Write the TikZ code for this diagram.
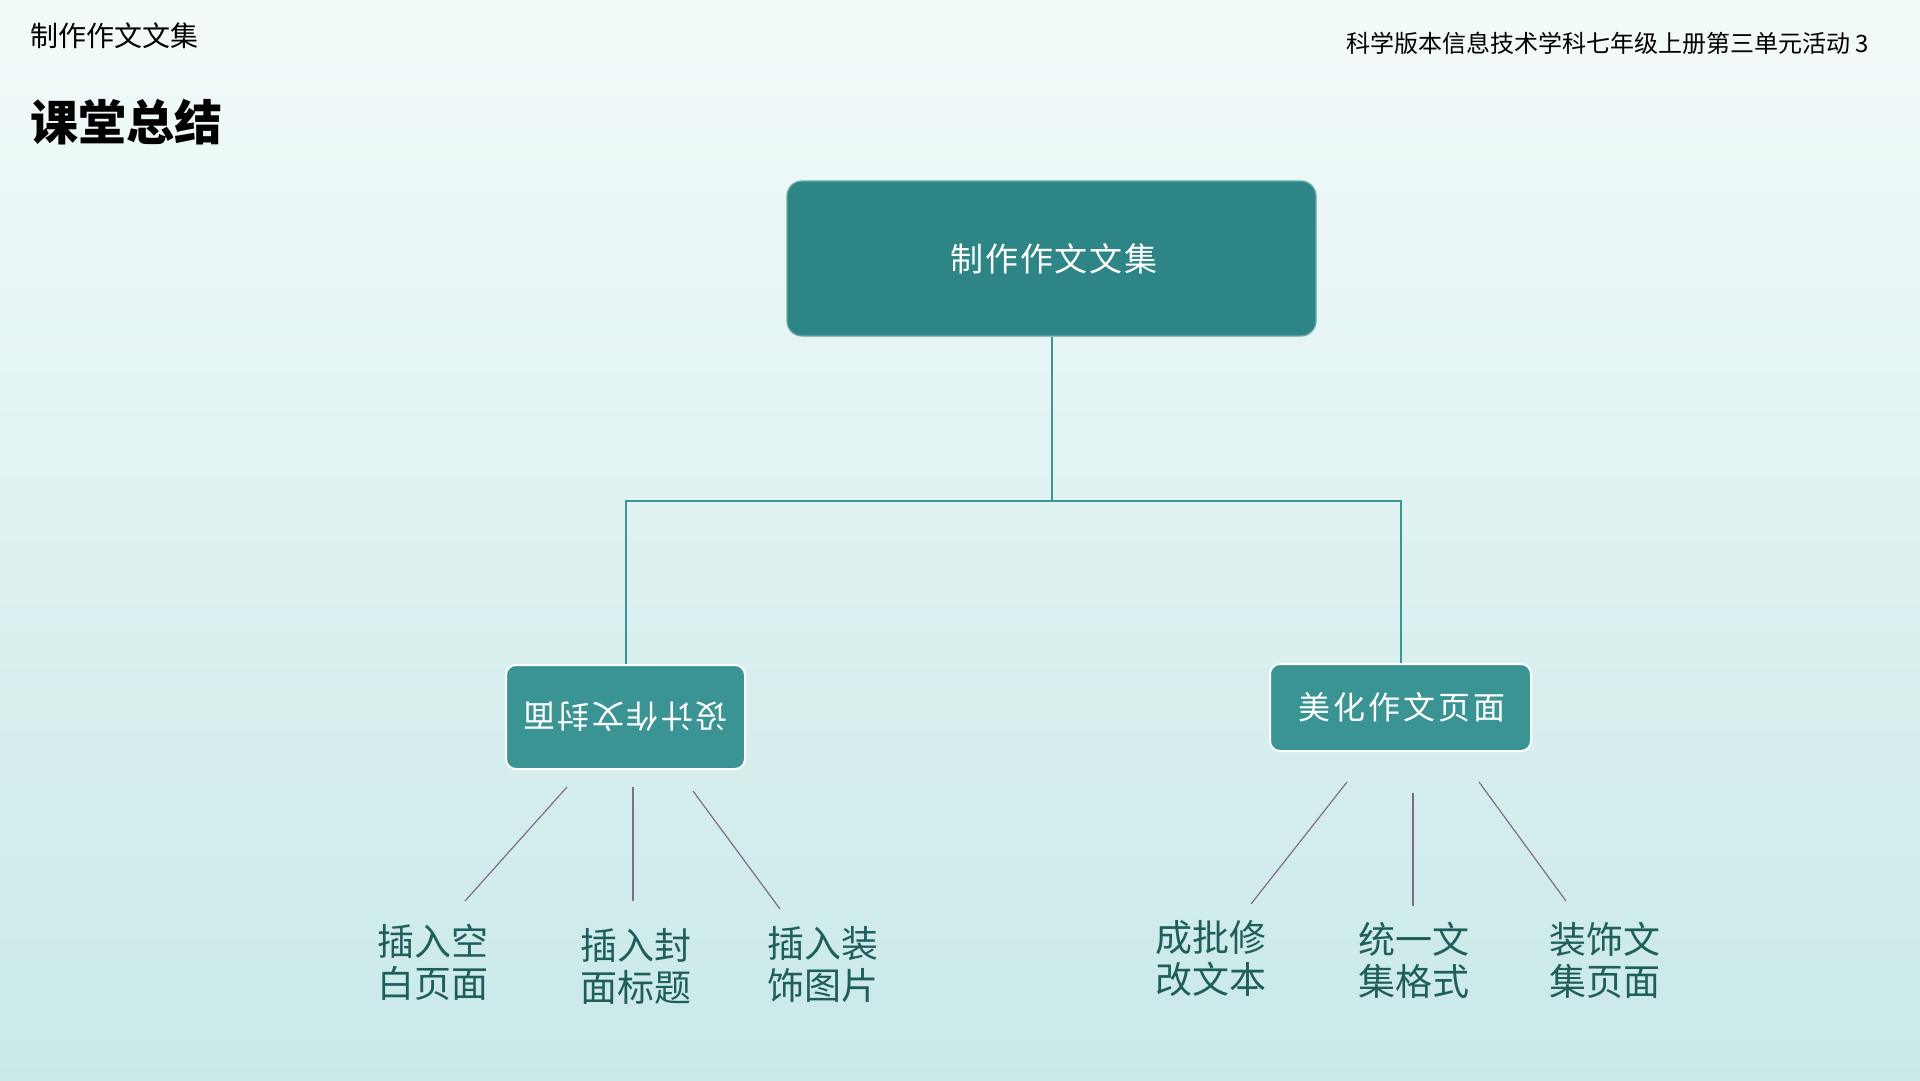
\documentclass[tikz,border=0pt]{standalone}
\usepackage{fontspec}
\setmainfont{Noto Sans CJK SC}
\usetikzlibrary{calc}
\definecolor{bgtop}{HTML}{F3FAFA}
\definecolor{bgbot}{HTML}{C9E9E8}
\definecolor{rootfill}{HTML}{2E8585}
\definecolor{subfill}{HTML}{3B9494}
\definecolor{branchc}{HTML}{3A9696}
\definecolor{twigc}{HTML}{7E6C8E}
\definecolor{leafc}{HTML}{1F5F5A}
\tikzset{
  mainbox/.style={draw=rootfill!70!white, line width=1.2pt, fill=rootfill, rounded corners=15pt,
     text=white, font=\fontsize{33}{38}\selectfont\addfontfeatures{LetterSpace=5}, inner sep=0pt},
  subbox/.style={draw=white, line width=2pt, fill=subfill, rounded corners=10pt,
     text=white, inner sep=0pt},
  leaf/.style={text=leafc, font=\fontsize{37}{42}\selectfont, align=center, inner sep=0pt},
  branch/.style={draw=branchc, line width=2pt},
  twig/.style={draw=twigc, line width=1.2pt},
}
\begin{document}
\begin{tikzpicture}[x=1pt,y=-1pt]
\shade[top color=bgtop, bottom color=bgbot] (0,0) rectangle (1920,1080);
\useasboundingbox (0,0) rectangle (1920,1080);
% header
\node[anchor=west, inner sep=0pt, font=\fontsize{28}{32}\selectfont] (hdr) at (30,36) {制作作文文集};
\node[anchor=west, inner sep=0pt, font=\fontsize{48}{54}\selectfont\bfseries] (ttl) at (30,122) {课堂总结};
\node[anchor=east, inner sep=0pt, font=\fontsize{24}{30}\selectfont] (src) at (1869,43) {科学版本信息技术学科七年级上册第三单元活动 3};
% boxes
\node[mainbox, minimum width=529pt, minimum height=155pt] (root) at (1051.5,258.5) {\hspace*{5pt}制作作文文集};
\node[subbox, minimum width=239pt, minimum height=104pt,
      font=\fontsize{32}{36}\selectfont\addfontfeatures{LetterSpace=8}] (left) at (625.5,717) {\rotatebox{180}{设计作文封面}};
\node[subbox, minimum width=261pt, minimum height=87pt,
      font=\fontsize{32}{36}\selectfont\addfontfeatures{LetterSpace=9}] (right) at (1400.5,707.5) {\hspace*{3pt}美化作文页面};
% branches
\draw[branch] (root.south) -- ++(0,164) coordinate (mid);
\draw[branch] (mid) -| (left.north);
\draw[branch] (mid) -| (right.north);
% leaves
\node[leaf] (l1) at (433,962) {插入空\\白页面};
\node[leaf] (l2) at (636,966) {插入封\\面标题};
\node[leaf] (l3) at (823,964) {插入装\\饰图片};
\node[leaf] (r1) at (1211,958) {成批修\\改文本};
\node[leaf] (r2) at (1414,960) {统一文\\集格式};
\node[leaf] (r3) at (1605,960) {装饰文\\集页面};
% twigs
\draw[twig] ($(left.south)+(-58.5,17)$) -- ($(l1)+(32,-61)$);
\draw[twig] ($(left.south)+(7.5,17)$) -- ($(l2)+(-3,-65)$);
\draw[twig] ($(left.south)+(67.5,21)$) -- ($(l3)+(-43,-55)$);
\draw[twig] ($(right.south)+(-53.5,30)$) -- ($(r1)+(40,-54)$);
\draw[twig] ($(right.south)+(12.5,41)$) -- ($(r2)+(-1,-54)$);
\draw[twig] ($(right.south)+(78.5,30)$) -- ($(r3)+(-39,-59)$);
\end{tikzpicture}
\end{document}
